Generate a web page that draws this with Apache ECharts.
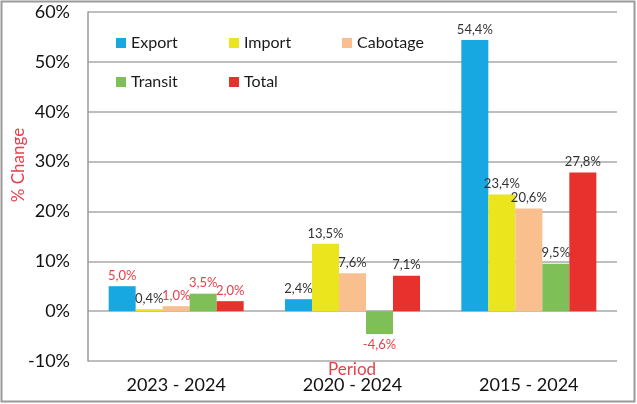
<!DOCTYPE html>
<html>
<head>
<meta charset="utf-8">
<script src="https://cdn.jsdelivr.net/npm/echarts@6/dist/echarts.min.js"></script>
<style>
  html, body { margin: 0; padding: 0; background: #fff; }
  #chart { width: 637px; height: 404px; }
</style>
</head>
<body>
<div id="chart"></div>
<script>
var periods = ['2023 - 2024', '2020 - 2024', '2015 - 2024'];
var seriesNames = ['Export', 'Import', 'Cabotage', 'Transit', 'Total'];
var exportVals = [5.0, 2.4, 54.4];
var importVals = [0.4, 13.5, 23.4];
var cabotageVals = [1.0, 7.6, 20.6];
var transitVals = [3.5, -4.6, 9.5];
var totalVals = [2.0, 7.1, 27.8];

var colors = ['#17a8e1', '#ebe51e', '#f9bf8e', '#7ebf57', '#e8302c'];
// which labels are printed in red in the original
var redLabels = { Export: [0], Import: [], Cabotage: [0], Transit: [0, 1], Total: [0] };
var red = '#e8404a';

var chartDom = document.getElementById('chart');
var myChart = echarts.init(chartDom);

function fmt(v) {
    return v.toFixed(1).replace('.', ',') + '%';
}

var allVals = [exportVals, importVals, cabotageVals, transitVals, totalVals];

var series = seriesNames.map(function (name, s) {
    return {
        name: name,
        type: 'bar',
        barWidth: 27,
        barGap: '0%',
        itemStyle: { color: colors[s] },
        label: {
            show: true,
            position: 'top',
            distance: 4,
            fontSize: 13,
            fontFamily: 'Lato',
            color: '#333',
            formatter: function (p) { return fmt(p.value); }
        },
        data: allVals[s].map(function (v, i) {
            var isRed = redLabels[name].indexOf(i) >= 0;
            return {
                value: v,
                label: {
                    color: isRed ? red : '#333',
                    position: v < 0 ? 'bottom' : 'top'
                }
            };
        })
    };
});

// legend laid out as a 3-column grid, one legend per item
var legendPos = {
    Export: [111, 30], Import: [224, 30], Cabotage: [337, 30],
    Transit: [111, 69], Total: [224, 69]
};
var legends = seriesNames.map(function (name) {
    return {
        data: [name],
        left: legendPos[name][0],
        top: legendPos[name][1],
        itemWidth: 10, itemHeight: 10,
        icon: 'rect',
        textStyle: { fontSize: 16, fontFamily: 'Lato', color: '#1a1a1a' }
    };
});

var option = {
    animation: false,
    graphic: [{
        type: 'rect',
        shape: { x: 1.5, y: 1.5, width: 633, height: 400 },
        style: { fill: 'none', stroke: '#9a9a9a', lineWidth: 2 }
    }, {
        // y axis title
        type: 'text',
        x: 19, y: 165,
        rotation: Math.PI / 2,
        style: {
            text: '% Change', fill: red, fontSize: 17, fontFamily: 'Lato',
            align: 'center', verticalAlign: 'middle'
        }
    }, {
        // x axis title, sits right on top of the category labels
        type: 'text',
        x: 352, y: 370,
        z: 10,
        style: {
            text: 'Period', fill: red, fontSize: 17, fontFamily: 'Lato',
            align: 'center', verticalAlign: 'middle'
        }
    }],
    legend: legends,
    grid: { left: 88, right: 20, top: 12, bottom: 43, outerBoundsMode: 'none' },
    xAxis: {
        type: 'category',
        data: periods,
        axisLine: { show: false },
        axisTick: { show: false },
        axisLabel: { color: '#111', fontSize: 18, fontFamily: 'Lato', margin: 15 }
    },
    yAxis: {
        type: 'value',
        min: -10, max: 60, interval: 10,
        axisLine: { show: true, lineStyle: { color: '#9a9a9a', width: 1.5 } },
        axisTick: { show: false },
        splitLine: { lineStyle: { color: '#a8a8a8', width: 1.5 } },
        axisLabel: {
            color: '#111', fontSize: 18, fontFamily: 'Lato', margin: 18,
            formatter: function (v) { return v + '%'; }
        }
    },
    series: series
};

myChart.setOption(option);
</script>
</body>
</html>
